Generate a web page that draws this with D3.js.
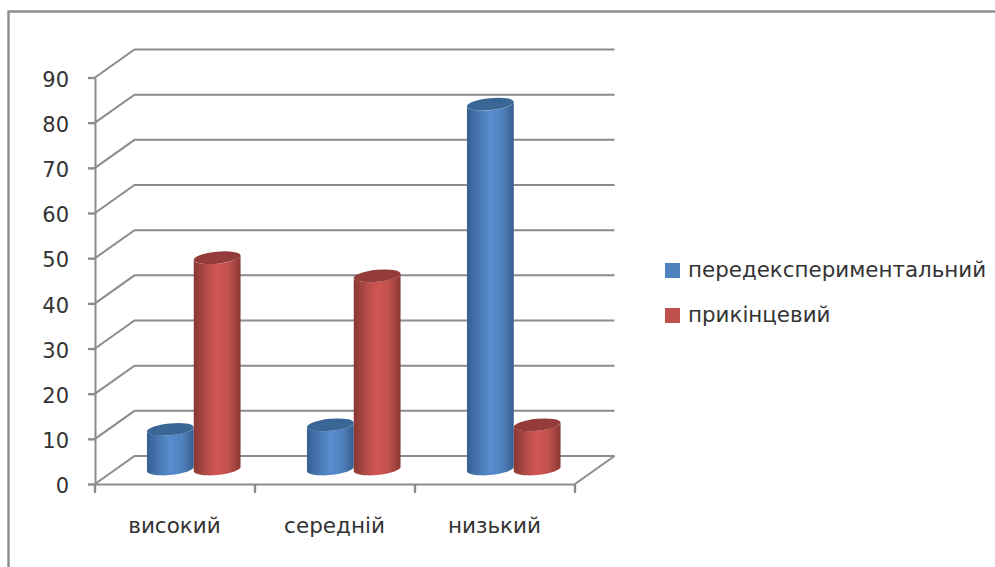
<!DOCTYPE html>
<html>
<head>
<meta charset="utf-8">
<script src="https://cdn.jsdelivr.net/npm/d3@7"></script>
<style>
html, body { margin: 0; padding: 0; background: #fff; }
svg { display: block; }
text { font-family: "DejaVu Sans", sans-serif; fill: #333; }
</style>
</head>
<body>
<svg id="chart" width="995" height="567"></svg>
<script>
const categories = ["високий", "середній", "низький"];
const seriesNames = ["передекспериментальний", "прикінцевий"];
const before = [9, 10, 81];
const after = [47, 43, 10];
const yTicks = [0, 10, 20, 30, 40, 50, 60, 70, 80, 90];

const palette = {
  "передекспериментальний": { base: "#4f81bd", dark: "#365f91", top: "#3a6695" },
  "прикінцевий": { base: "#c0504d", dark: "#8a3734", top: "#943c3a" }
};
const gridColor = "#8c8c8c";

const svg = d3.select("#chart");
const defs = svg.append("defs");

// Horizontal shading gives the columns their rounded look
seriesNames.forEach((name, i) => {
  const c = palette[name];
  const g = defs.append("linearGradient").attr("id", "shade" + i);
  [[0, c.dark], [0.28, d3.interpolateRgb(c.dark, c.base)(0.8)], [0.5, d3.rgb(c.base).brighter(0.25)],
   [0.75, c.base], [1, c.dark]].forEach(([o, col]) => {
    g.append("stop").attr("offset", o).attr("stop-color", col);
  });
});

// Outer chart frame
svg.append("path")
  .attr("d", "M8.5,567V11.5H995")
  .attr("fill", "none").attr("stroke", "#8e8e8e").attr("stroke-width", 2.4);

const depthX = 39.5, depthY = 28;
const x = d3.scaleBand().domain(categories).range([95, 575]);
const y = d3.scaleLinear().domain([0, 90]).range([484, 77.5]);
const inner = d3.scaleBand().domain(seriesNames)
  .range([0, x.bandwidth() * 0.585]).paddingInner(0);

// Walls and floor
const wall = svg.append("g").attr("fill", "none").attr("stroke", gridColor).attr("stroke-width", 2);
yTicks.forEach(t => {
  wall.append("path").attr("d",
    `M${x.range()[0]},${y(t)}L${x.range()[0] + depthX},${y(t) - depthY}H${x.range()[1] + depthX}`);
});
wall.append("path").attr("d",
  `M${x.range()[1]},${y(0)}L${x.range()[1] + depthX},${y(0) - depthY}`);

// Axes
const yAxis = svg.append("g").attr("transform", `translate(${x.range()[0]},0)`)
  .call(d3.axisLeft(y).tickValues(yTicks).tickSize(7).tickPadding(19).tickSizeOuter(0));
const xAxis = svg.append("g").attr("transform", `translate(0,${y(0)})`)
  .call(d3.axisBottom(x).tickValues([]).tickSizeOuter(0));
xAxis.selectAll(".cat").data(x.domain().concat("end")).join("line")
  .attr("x1", (d, i) => x.range()[0] + i * x.step())
  .attr("x2", (d, i) => x.range()[0] + i * x.step())
  .attr("y1", 0).attr("y2", 9);
xAxis.selectAll(".label").data(categories).join("text")
  .attr("x", d => x(d) + x.bandwidth() / 2 - 0.5)
  .attr("y", 49)
  .attr("text-anchor", "middle")
  .attr("font-size", 21.5)
  .text(d => d);
[yAxis, xAxis].forEach(a => {
  a.selectAll("path.domain, line").attr("stroke", gridColor).attr("stroke-width", 2.4);
  a.select(".domain").attr("stroke-width", 2);
});
yAxis.selectAll("text").attr("font-size", 21).attr("dy", "0.42em");

// Cylinders: the sides meet each tilted ellipse at its vertical tangents
const halfWidth = inner.bandwidth() / 2, ry = 6, tilt = -5.5;
const rad = tilt * Math.PI / 180;
const rx = Math.sqrt((halfWidth * halfWidth - Math.pow(ry * Math.sin(rad), 2)) / Math.pow(Math.cos(rad), 2));
const dy = (rx * rx - ry * ry) * Math.sin(rad) * Math.cos(rad) / halfWidth;
const groupOffset = (x.bandwidth() - inner.range()[1]) / 2 + depthX / 2 - 1;
const floorY = -depthY / 2;

function cylinder(cx, cyTop, cyBase) {
  return `M${cx - halfWidth},${cyTop - dy}L${cx - halfWidth},${cyBase - dy}` +
    `A${rx},${ry} ${tilt} 0 0 ${cx + halfWidth},${cyBase + dy}` +
    `L${cx + halfWidth},${cyTop + dy}` +
    `A${rx},${ry} ${tilt} 0 1 ${cx - halfWidth},${cyTop - dy}Z`;
}

const rows = [before, after];
seriesNames.forEach((name, s) => {
  const g = svg.append("g");
  categories.forEach((cat, i) => {
    const cx = x(cat) + groupOffset + inner(name) + inner.bandwidth() / 2;
    const top = y(rows[s][i]) + floorY;
    const base = y(0) + floorY - 1;
    g.append("path").attr("d", cylinder(cx, top, base)).attr("fill", `url(#shade${s})`);
    g.append("ellipse")
      .attr("rx", rx).attr("ry", ry)
      .attr("transform", `translate(${cx},${top}) rotate(${tilt})`)
      .attr("fill", palette[name].top);
  });
});

// Legend
const legend = svg.append("g");
seriesNames.forEach((name, i) => {
  const row = legend.append("g").attr("transform", `translate(665,${263 + i * 45})`);
  row.append("rect").attr("width", 15).attr("height", 15)
    .attr("fill", palette[name].base);
  row.append("text").attr("x", 23).attr("y", 13.5).attr("font-size", 21.4).text(name);
});
</script>
</body>
</html>
